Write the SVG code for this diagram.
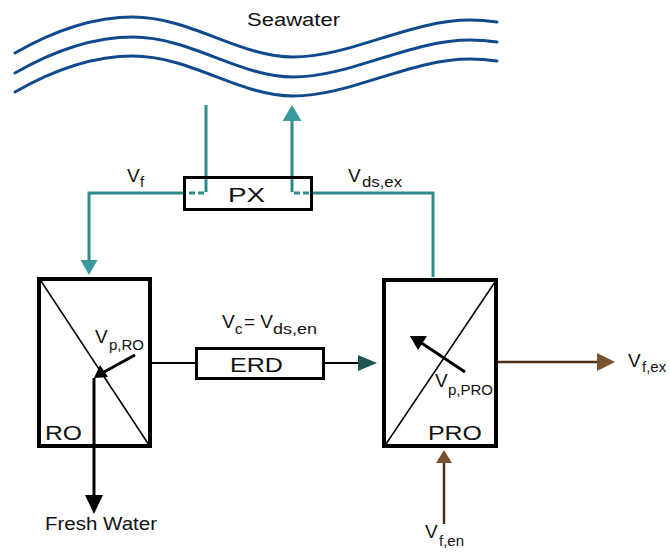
<svg xmlns="http://www.w3.org/2000/svg" width="670" height="552" viewBox="0 0 670 552">
<style>
.wave{fill:none;stroke:#104a8e;stroke-width:3;stroke-linecap:round}
.teal{fill:none;stroke:#2d8b8e;stroke-width:3}
.tealdash{fill:none;stroke:#2d8b8e;stroke-width:3;stroke-dasharray:6 3}
.tealhead{fill:#3a9a9c}
.darkhead{fill:#1d5557}
.blk{fill:none;stroke:#000;stroke-width:2}
.blk3{fill:none;stroke:#000;stroke-width:3}
.blkhead{fill:#000}
.box{fill:#fff;stroke:#000;stroke-width:3}
.unit{fill:#fff;stroke:#000;stroke-width:4}
.diag{stroke:#000;stroke-width:1.5}
.brown{fill:none;stroke:#4e3019;stroke-width:2.5}
.brownhead{fill:#7a5230}
text{font-family:"Liberation Sans",Arial,sans-serif;fill:#111}
.big{font-size:21px}
.v{font-size:19px}
.sub{font-size:15px}
</style>
<g id="seawater">
<path class="wave" d="M15,53 C55,30 95,17 133,17 C190,17 240,57 293,57 C350,57 410,20 470,20 C482,20 490,21 497,22"/>
<path class="wave" d="M15,53 C55,30 95,17 133,17 C190,17 240,57 293,57 C350,57 410,20 470,20 C482,20 490,21 497,22" transform="translate(0,20)"/>
<path class="wave" d="M15,53 C55,30 95,17 133,17 C190,17 240,57 293,57 C350,57 410,20 470,20 C482,20 490,21 497,22" transform="translate(0,39)"/>
<text x="247" y="26" font-size="18" textLength="93" lengthAdjust="spacingAndGlyphs">Seawater</text>
</g>
<g id="connectors">
<path class="teal" d="M206,105 V186"/>
<path class="tealdash" d="M206,186 V193 H185"/>
<path class="teal" d="M292,186 V120"/>
<polygon class="tealhead" points="282.5,121 301.5,121 292,105"/>
<path class="tealdash" d="M292,186 V193 H312"/>
<path class="teal" d="M183,193 H89 V261"/>
<polygon class="tealhead" points="80.5,260 97.5,260 89,275"/>
<path class="teal" d="M313,193 H433 V277"/>
<path class="blk" d="M152,363 H195"/>
<path class="blk" d="M325,363 H359"/>
<polygon class="darkhead" points="358,355 377,363 358,371"/>
<path class="brown" d="M498,362 H598"/>
<polygon class="brownhead" points="597,353 615,362 597,371"/>
<path class="brown" d="M444,524 V462"/>
<polygon class="brownhead" points="436,463 452,463 444,450"/>
</g>
<g id="PX">
<rect class="box" x="184.5" y="177.5" width="127" height="32" style="fill:none"/>
<text class="big" x="228" y="202" textLength="37" lengthAdjust="spacingAndGlyphs">PX</text>
</g>
<g id="ERD">
<rect class="box" x="196.5" y="348.5" width="127" height="30"/>
<text class="big" x="230" y="372" textLength="53" lengthAdjust="spacingAndGlyphs">ERD</text>
<text class="v" x="222" y="328">V<tspan class="sub" x="235" y="334">c</tspan><tspan x="244" y="328">= V</tspan><tspan class="sub" x="273" y="334" textLength="44" lengthAdjust="spacingAndGlyphs">ds,en</tspan></text>
</g>
<g id="RO">
<rect class="unit" x="39" y="279" width="111" height="167"/>
<line class="diag" x1="41" y1="281" x2="149" y2="445"/>
<text class="big" x="45" y="440" textLength="37" lengthAdjust="spacingAndGlyphs">RO</text>
<text class="v" x="95" y="343">V<tspan class="sub" x="109" y="350">p,RO</tspan></text>
<path class="blk3" d="M135,355 L104,372"/>
<polygon class="blkhead" points="94,378 100,365 108,377"/>
<path class="blk3" d="M94,378 V497"/>
<polygon class="blkhead" points="85,495 103,495 94,514"/>
</g>
<g id="fresh-water">
<text x="45" y="530" font-size="18" textLength="112" lengthAdjust="spacingAndGlyphs">Fresh Water</text>
</g>
<g id="PRO">
<rect class="unit" x="384" y="280" width="112" height="166"/>
<line class="diag" x1="386" y1="444" x2="495" y2="282"/>
<text class="big" x="428" y="440" font-size="20" textLength="54" lengthAdjust="spacingAndGlyphs">PRO</text>
<path class="blk3" d="M465,372 L420,342"/>
<polygon class="blkhead" points="410,336 427,336 418,350"/>
<text class="v" x="435" y="387">V<tspan class="sub" x="448" y="395">p,PRO</tspan></text>
</g>
<g id="labels">
<text class="v" x="127" y="182">V<tspan class="sub" x="140" y="187">f</tspan></text>
<text class="v" x="348" y="182">V<tspan class="sub" x="362" y="187" textLength="40" lengthAdjust="spacingAndGlyphs">ds,ex</tspan></text>
<text class="v" x="628" y="367">V<tspan class="sub" x="642" y="372">f,ex</tspan></text>
<text class="v" x="425" y="538">V<tspan class="sub" x="439" y="546">f,en</tspan></text>
</g>
</svg>
